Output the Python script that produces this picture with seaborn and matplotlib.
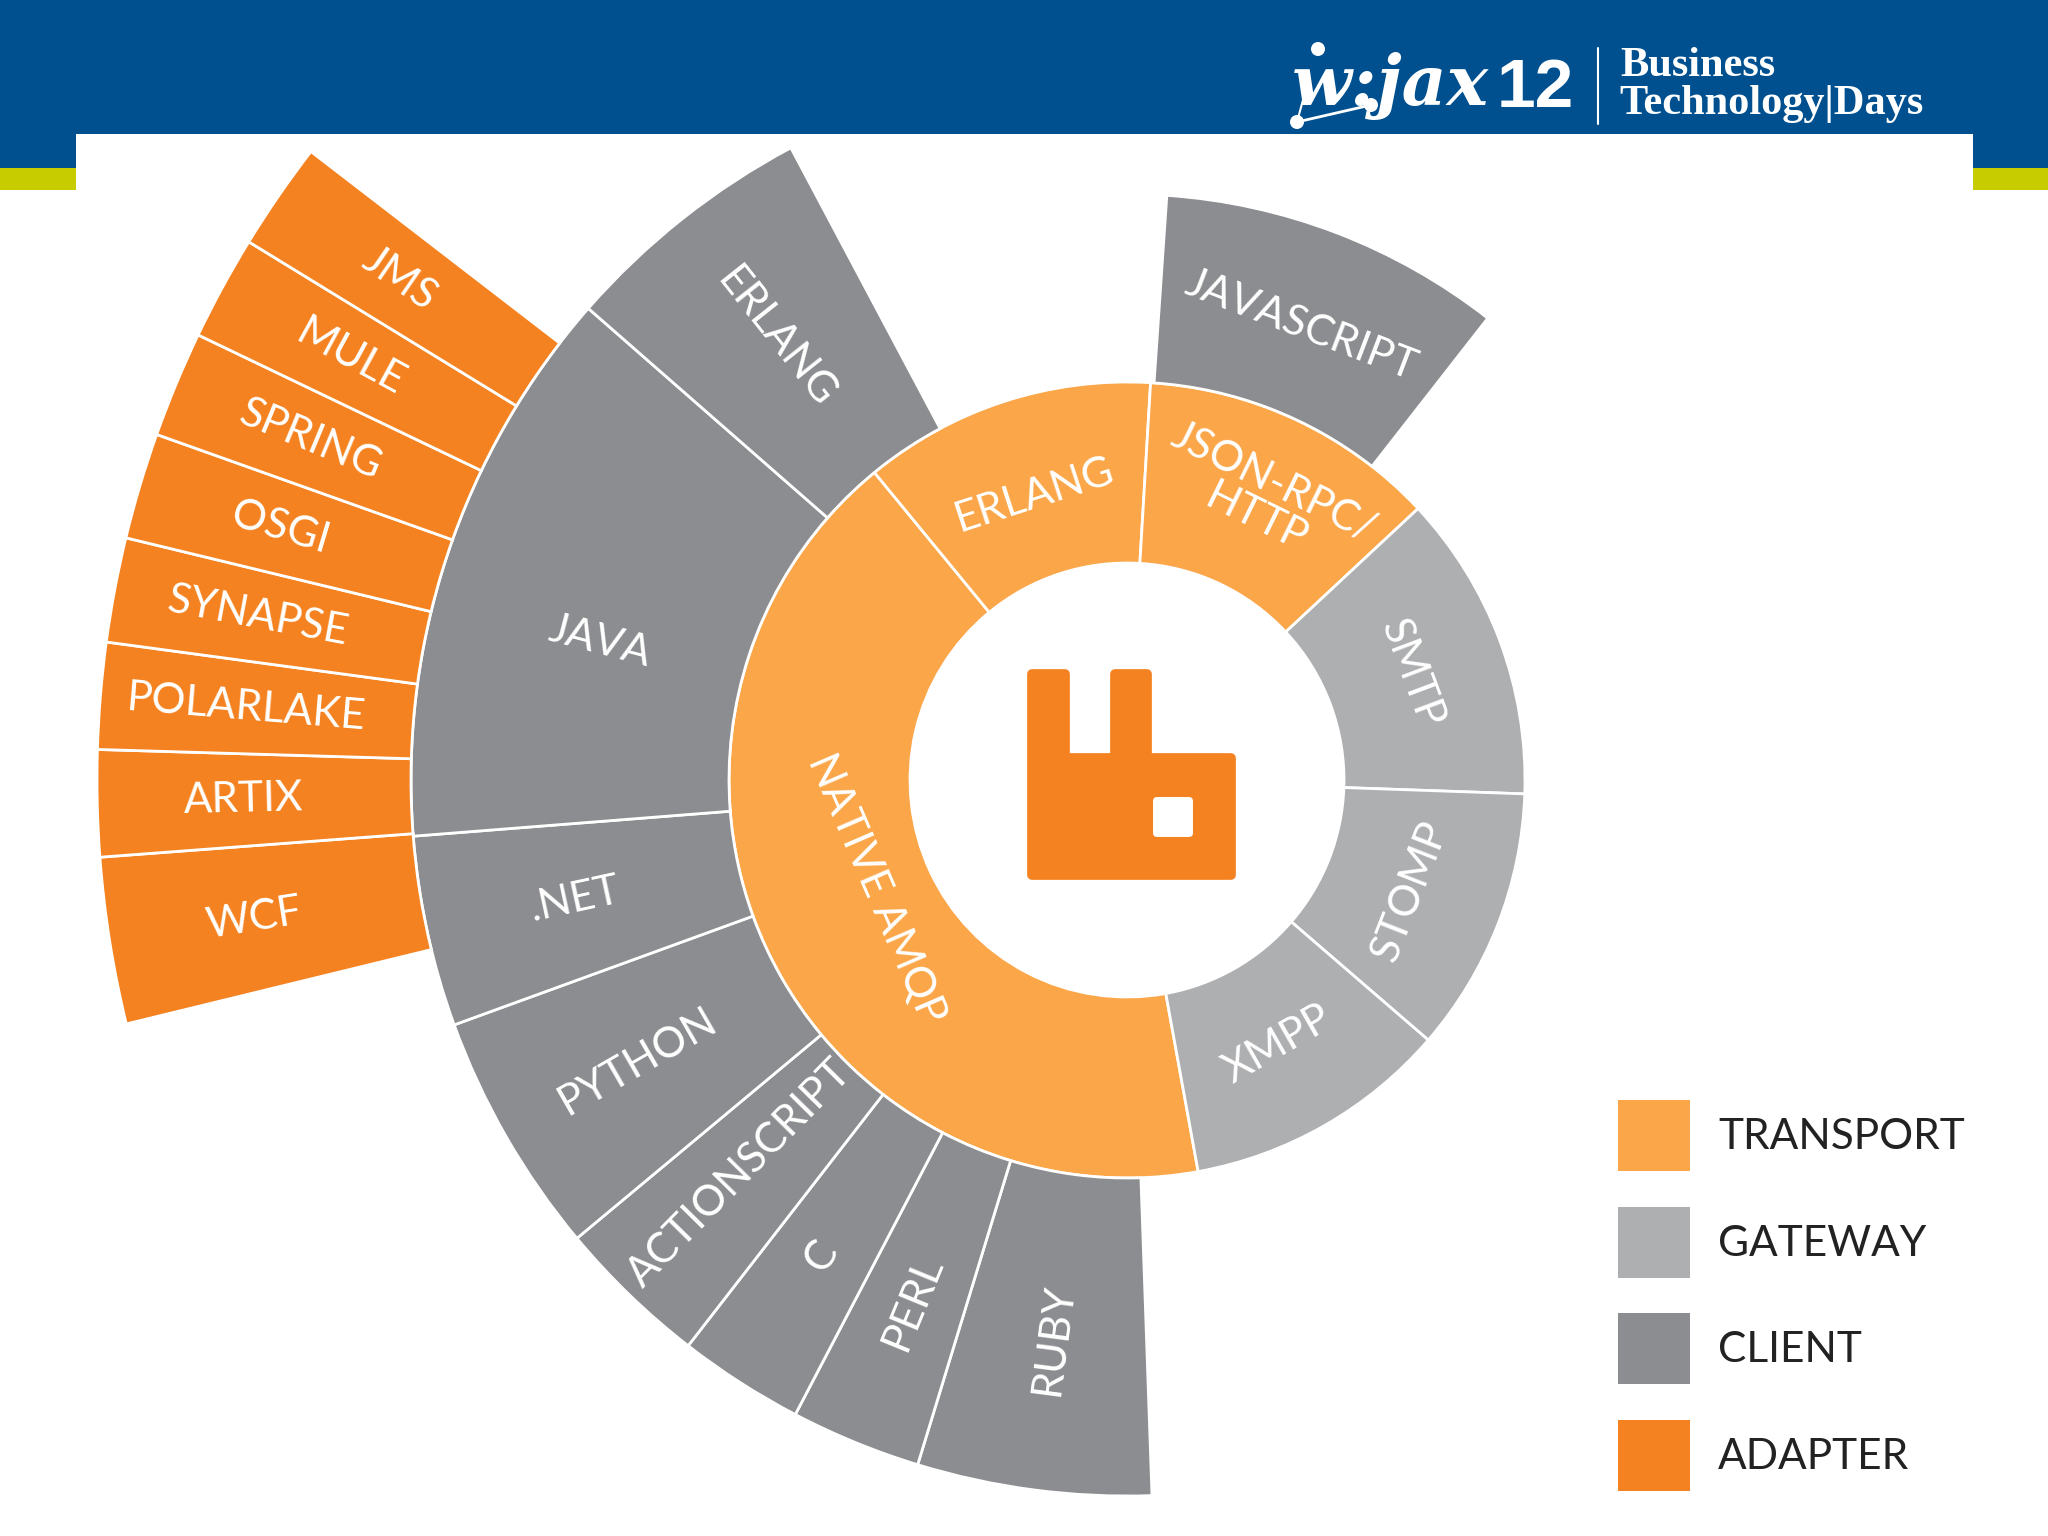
import numpy as np
import matplotlib
matplotlib.use("Agg")
import matplotlib.pyplot as plt
from matplotlib.patches import Rectangle, Polygon, Circle
import seaborn as sns

# angles are degrees clockwise from north
transport_names = ["NATIVE AMQP", "ERLANG", "JSON-RPC/\nHTTP"]
transport_edges = [169.7, 320.6, 363.4, 407.0]

gateway_names = ["SMTP", "STOMP", "XMPP"]
gateway_edges = [47.0, 92.0, 130.8, 169.7]

client_names = ["RUBY", "PERL", "C", "ACTIONSCRIPT", "PYTHON", ".NET", "JAVA", "ERLANG"]
client_edges = [178.0, 197.0, 207.6, 217.8, 230.2, 250.0, 265.5, 311.2, 332.0]

js_names = ["JAVASCRIPT"]
js_edges = [3.9, 38.0]

adapter_names = ["WCF", "ARTIX", "POLARLAKE", "SYNAPSE", "OSGI", "SPRING", "MULE", "JMS"]
adapter_edges = [256.3, 265.7, 271.7, 277.7, 283.6, 289.6, 295.6, 301.5, 307.6]

legend_names = ["TRANSPORT", "GATEWAY", "CLIENT", "ADAPTER"]

TRANSPORT = "#FBA649"
GATEWAY = "#AEAFB1"
CLIENT = "#8C8D90"
ADAPTER = "#F58220"
BLUE = "#00508F"
LIME = "#C6CC00"

sns.set_theme(style="white")
plt.rcParams["font.family"] = ["Lato", "DejaVu Sans"]

W, H = 2048, 1536
CX, CY, RMAX = 1127, 780, 1035
LABEL_SIZE = 30.5

fig = plt.figure(figsize=(W / 100, H / 100), dpi=100, facecolor="white")

# background layer in pixel coordinates, header and legend go here
bg = fig.add_axes([0, 0, 1, 1])
bg.set_xlim(0, W)
bg.set_ylim(H, 0)
bg.axis("off")

bg.add_patch(Rectangle((0, 0), W, 168, color=BLUE, lw=0))
bg.add_patch(Rectangle((0, 168), W, 22, color=LIME, lw=0))
bg.add_patch(Rectangle((76, 134), 1897, 60, color="white", lw=0))

# header logo
bg.text(1292, 105, "w:jax", family="DejaVu Serif", weight="bold", style="italic",
        size=50, color="white", va="baseline", ha="left")
bg.text(1497, 107, "12", family="Liberation Sans", weight="bold", size=50,
        color="white", va="baseline", ha="left")
bg.plot([1297, 1371], [122, 105], color="white", lw=2)
bg.plot([1297, 1303], [122, 100], color="white", lw=1.5)
for x, y, r in [(1318, 49, 7), (1297, 122, 7), (1371, 105, 7)]:
    bg.add_patch(Circle((x, y), r, color="white", lw=0))
bg.plot([1598, 1598], [48, 124], color="white", lw=1.5)
bg.text(1620, 76, "Business", family="Liberation Serif", weight="bold", size=30.5,
        color="white", va="baseline", ha="left")
bg.text(1619, 114, "Technology|Days", family="Liberation Serif", weight="bold", size=30.5,
        color="white", va="baseline", ha="left")

# legend
legend_colors = [TRANSPORT, GATEWAY, CLIENT, ADAPTER]
legend_y = [1100, 1207, 1313, 1420]
for name, col, y in zip(legend_names, legend_colors, legend_y):
    bg.add_patch(Rectangle((1618, y), 72, 71, color=col, lw=0))
    bg.text(1718, y + 37, name, size=LABEL_SIZE, color="#222222", va="center", ha="left")

# sunburst rings
ax = fig.add_axes([(CX - RMAX) / W, (H - CY - RMAX) / H, 2 * RMAX / W, 2 * RMAX / H],
                  projection="polar")
ax.set_theta_zero_location("N")
ax.set_theta_direction(-1)
ax.set_ylim(0, RMAX)
ax.patch.set_alpha(0)
ax.axis("off")


def ring(edges, bottom, top, color):
    edges = np.radians(edges)
    ax.bar(edges[:-1], top - bottom, width=np.diff(edges), bottom=bottom, align="edge",
           color=color, edgecolor="white", linewidth=2)


def label(name, theta, r, radial):
    rot = 90 - theta if radial else -theta
    rot = (rot + 90) % 180 - 90
    ax.text(np.radians(theta), r, name, rotation=rot, rotation_mode="anchor",
            ha="center", va="center", color="white", size=LABEL_SIZE,
            linespacing=1.05, ma="center")


ring(transport_edges, 217, 398, TRANSPORT)
ring(gateway_edges, 217, 398, GATEWAY)
ring(client_edges, 398, 716, CLIENT)
ring(js_edges, 398, 586, CLIENT)
ring(adapter_edges, 716, 1030, ADAPTER)

# a few labels sit off the middle of their wedge
nudge = {"JAVA": (-3.6, 545), "NATIVE AMQP": (1.5, 274), "JSON-RPC/\nHTTP": (1.0, 312),
         "ACTIONSCRIPT": (0.5, 552)}

for names, edges, r, radial in [
    (transport_names, transport_edges, 300, False),
    (gateway_names, gateway_edges, 304, False),
    (client_names, client_edges, 565, True),
    (js_names, js_edges, 487, False),
    (adapter_names, adapter_edges, 884, True),
]:
    for i, name in enumerate(names):
        mid = (edges[i] + edges[i + 1]) / 2
        d, rr = nudge.get(name, (0, r))
        label(name, mid + d, rr, radial)

# rabbit logo in the middle
top = fig.add_axes([0, 0, 1, 1])
top.set_xlim(0, W)
top.set_ylim(H, 0)
top.axis("off")
top.patch.set_alpha(0)
rabbit = [(1032, 674), (1065, 674), (1065, 758), (1115, 758), (1115, 674), (1147, 674),
          (1147, 758), (1231, 758), (1231, 875), (1032, 875)]
top.add_patch(Polygon(rabbit, closed=True, facecolor=ADAPTER, edgecolor=ADAPTER, lw=7,
                      joinstyle="round"))
top.add_patch(Polygon([(1156, 800), (1189, 800), (1189, 833), (1156, 833)], closed=True,
                      facecolor="white", edgecolor="white", lw=5, joinstyle="round"))

fig.savefig("out.png", dpi=100)
